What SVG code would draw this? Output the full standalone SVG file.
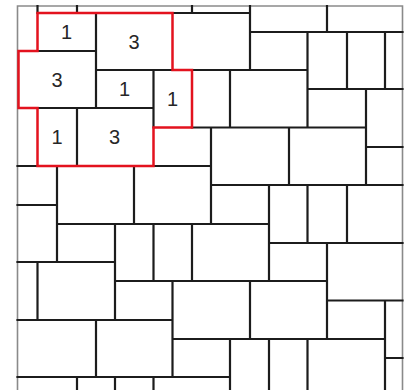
<svg xmlns="http://www.w3.org/2000/svg" width="409" height="390" viewBox="0 0 409 390">
  <style>
    .frame { fill: none; stroke: #8a8a8a; stroke-width: 1.6; }
    .joint { fill: none; stroke: #1c1c1c; stroke-width: 2.2; stroke-linecap: square; }
    .group { fill: none; stroke: #e3121e; stroke-width: 2.5; stroke-linejoin: miter; }
    .num { font-family: "Liberation Sans", Arial, sans-serif; font-size: 20px; fill: #262626; text-anchor: middle; }
  </style>
  <rect width="409" height="390" fill="#ffffff"/>
  <g id="frame">
    <path class="frame" d="M17.5 390 V6 H402.5 V390"/>
  </g>
  <g id="joints">
    <path class="joint" d="
      M172.5 13 H250 M250 32 H402.5 M37.5 51 H96 M96 70 H172.5 M192 70 H307.5
      M307.5 89 H402.5 M37.5 108 H153.5 M192 127.5 H366 M366 147 H402.5
      M17.5 166 H37.5 M153.5 166 H211 M211 185 H402.5 M17.5 205 H57
      M57 224 H269 M269 243 H402.5 M17.5 262 H115 M115 281 H327
      M327 300.5 H402.5 M17.5 320 H172.5 M172.5 339 H385 M385 358 H402.5
      M17.5 377 H230
      M37.5 6 V13 M57 166 V262 M37.5 262 V320 M77 6 V13 M77 108 V166 M77 377 V390
      M96 13 V108 M96 320 V377 M115 224 V320 M115 377 V390 M134 166 V224
      M153.5 70 V127.5 M153.5 224 V281 M153.5 377 V390 M172.5 281 V377
      M192 6 V13 M192 224 V281 M211 127.5 V224 M230 70 V127.5 M230 339 V390
      M250 6 V70 M250 281 V339 M269 185 V281 M269 339 V390 M289 127.5 V185
      M307.5 32 V127.5 M307.5 185 V243 M307.5 339 V390 M327 6 V32 M327 243 V339
      M347 32 V89 M347 185 V243 M366 89 V185 M385 32 V89 M385 300.5 V390"/>
  </g>
  <g id="highlight">
    <path class="group" d="M37.5 13 H172.5 V70 H192 V127.5 H153.5 V166 H37.5 V108 H18.5 V51 H37.5 Z"/>
  </g>
  <g id="labels">
    <text class="num" x="66.5" y="39">1</text>
    <text class="num" x="134" y="48.5">3</text>
    <text class="num" x="57" y="86.5">3</text>
    <text class="num" x="124.5" y="96">1</text>
    <text class="num" x="172.5" y="105.5">1</text>
    <text class="num" x="57" y="144">1</text>
    <text class="num" x="114.5" y="144">3</text>
  </g>
</svg>
